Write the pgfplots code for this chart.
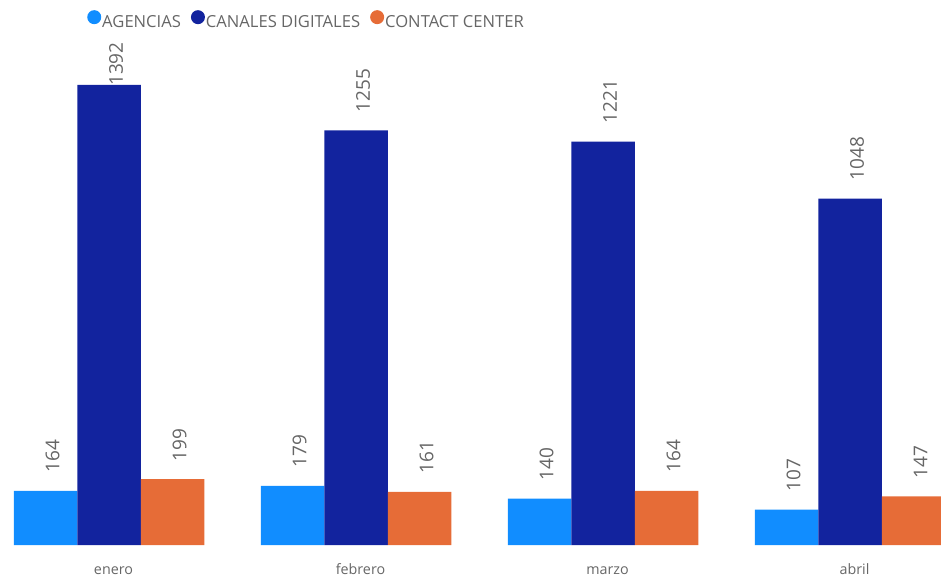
\documentclass[border=0pt]{standalone}
\usepackage{fontspec}
\setmainfont{Open Sans}
\usepackage{pgfplots}
\pgfplotsset{compat=1.18}
\definecolor{cAg}{HTML}{118DFF}
\definecolor{cCd}{HTML}{12239E}
\definecolor{cCc}{HTML}{E66C37}
\definecolor{txt}{HTML}{666666}

\pgfplotstableread{
x y off
0 1392 -1
1 1255 18
2 1221 18
3 1048 18
}\canales

\begin{document}
\begin{tikzpicture}
\begin{axis}[
  scale only axis, width=941bp, height=545bp,
  ybar=0pt, bar width=63.5bp,
  xmin=-0.4413, xmax=3.3684, ymin=0, ymax=1649.2,
  /pgf/number format/.cd, 1000 sep={}, assume math mode=true, /pgfplots/.cd,
  xtick={0,1,2,3}, xticklabels={enero,febrero,marzo,abril},
  ytick=\empty, axis line style={draw=none}, major tick length=0pt,
  xticklabel style={font=\fontsize{14.3bp}{16bp}\selectfont, text=txt, anchor=base,
    yshift=-29bp, xshift=4.5bp},
  nodes near coords,
  nodes near coords style={font=\fontsize{19bp}{22bp}\selectfont, text=txt, rotate=90,
    anchor=north west, inner ysep=0pt, inner xsep=18bp},
  legend style={at={(rel axis cs:0.0925,0.9817)}, anchor=north west, draw=none, fill=none,
    inner sep=0pt, font=\fontsize{16.6bp}{19bp}\selectfont, text=txt,
    nodes={inner sep=1bp},
    /tikz/every even column/.append style={column sep=9bp}},
  legend columns=-1,
]
\addplot[fill=cAg, draw=none,
  legend image code/.code={\fill[cAg] (7bp,5bp) circle (7bp);}]
  coordinates {(0,164) (1,179) (2,140) (3,107)};
\addlegendentry{AGENCIAS}
\addplot[fill=cCd, draw=none,
  visualization depends on={\thisrow{off}\as\off},
  every node near coord/.append style={inner xsep=\off bp},
  legend image code/.code={\fill[cCd] (7bp,5bp) circle (7bp);}]
  table[x=x, y=y] {\canales};
\addlegendentry{CANALES DIGITALES}
\addplot[fill=cCc, draw=none,
  legend image code/.code={\fill[cCc] (7bp,5bp) circle (7bp);}]
  coordinates {(0,199) (1,161) (2,164) (3,147)};
\addlegendentry{CONTACT CENTER}
\end{axis}
\pgfresetboundingbox
\path[use as bounding box] (0bp,-33bp) rectangle (941bp,545bp);
\end{tikzpicture}
\end{document}
